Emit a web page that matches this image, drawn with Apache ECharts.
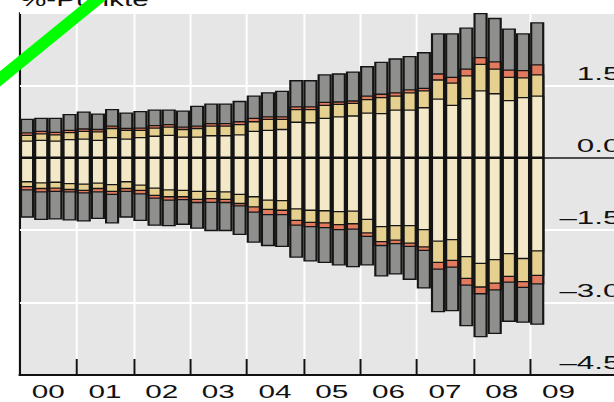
<!DOCTYPE html>
<html>
<head>
<meta charset="utf-8">
<script src="https://cdn.jsdelivr.net/npm/echarts@6/dist/echarts.min.js"></script>
<style>
html,body{margin:0;padding:0;background:#fff;overflow:hidden;width:614px;height:402px;}
#chart{width:390px;height:402px;transform:scaleX(1.65);transform-origin:0 0;}
</style>
</head>
<body>
<div id="chart"></div>
<script>
// Year tick labels (one extra, unlabeled slot to the right)
var years = ['00','01','02','03','04','05','06','07','08','09',''];
var quartersPerYear = ['Q1','Q2','Q3','Q4'];

// Band boundaries (percentage points), one value per quarter 2000Q1..2009Q1
var grayUp = [0.81,0.83,0.83,0.91,0.96,0.92,1.01,0.94,0.97,1.00,1.00,0.98,1.08,1.125,1.125,1.18,1.29,1.36,1.39,1.61,1.61,1.73,1.75,1.79,1.90,1.99,2.06,2.11,2.19,2.58,2.58,2.70,3.00,2.90,2.68,2.58,2.81];
var redUp = [0.53,0.56,0.54,0.58,0.61,0.60,0.67,0.62,0.63,0.68,0.70,0.65,0.67,0.72,0.72,0.76,0.83,0.86,0.86,1.07,1.07,1.16,1.17,1.19,1.29,1.33,1.36,1.42,1.45,1.75,1.68,1.85,2.09,2.00,1.83,1.82,1.94];
var tanUp = [0.48,0.51,0.49,0.535,0.56,0.55,0.62,0.58,0.58,0.63,0.65,0.60,0.62,0.67,0.67,0.70,0.76,0.81,0.81,1.01,1.01,1.10,1.12,1.14,1.22,1.26,1.29,1.36,1.40,1.625,1.56,1.71,1.95,1.85,1.68,1.67,1.73];
var creamUp = [0.36,0.375,0.36,0.39,0.40,0.375,0.43,0.40,0.43,0.46,0.48,0.44,0.44,0.47,0.47,0.49,0.56,0.58,0.60,0.75,0.74,0.83,0.86,0.88,0.94,0.93,1.00,1.00,1.05,1.23,1.10,1.24,1.40,1.34,1.20,1.26,1.29];
var creamDown = [-0.51,-0.535,-0.52,-0.55,-0.56,-0.54,-0.57,-0.51,-0.58,-0.64,-0.68,-0.69,-0.71,-0.71,-0.72,-0.77,-0.82,-0.89,-0.90,-1.07,-1.10,-1.11,-1.13,-1.12,-1.29,-1.44,-1.42,-1.42,-1.50,-1.74,-1.71,-2.06,-2.20,-2.125,-2.00,-2.10,-1.94];
var tanDown = [-0.61,-0.65,-0.64,-0.67,-0.69,-0.65,-0.71,-0.65,-0.69,-0.79,-0.82,-0.82,-0.875,-0.86,-0.875,-0.96,-1.03,-1.08,-1.10,-1.31,-1.35,-1.36,-1.40,-1.38,-1.57,-1.75,-1.72,-1.78,-1.86,-2.18,-2.14,-2.51,-2.69,-2.61,-2.47,-2.58,-2.45];
var redDown = [-0.68,-0.72,-0.71,-0.72,-0.74,-0.72,-0.77,-0.71,-0.76,-0.85,-0.89,-0.88,-0.94,-0.935,-0.94,-1.01,-1.14,-1.19,-1.19,-1.41,-1.44,-1.46,-1.50,-1.49,-1.64,-1.83,-1.79,-1.85,-1.93,-2.32,-2.28,-2.65,-2.83,-2.75,-2.59,-2.70,-2.625];
var grayDown = [-1.24,-1.29,-1.28,-1.30,-1.32,-1.27,-1.36,-1.24,-1.31,-1.41,-1.42,-1.39,-1.47,-1.52,-1.52,-1.60,-1.76,-1.83,-1.85,-2.07,-2.15,-2.18,-2.23,-2.27,-2.23,-2.46,-2.42,-2.53,-2.71,-3.20,-3.18,-3.49,-3.72,-3.65,-3.40,-3.42,-3.46];

var unitText = '%-Punkte';

// quarter categories across all year slots
var quarters = [];
years.forEach(function (y, i) {
  quartersPerYear.forEach(function (q) { quarters.push('20' + (i < 10 ? '0' + i : i) + q); });
});

var colors = { gray: '#8f908e', red: '#e27a5e', tan: '#e5d08f', cream: '#f3e9c8' };
var FONT = 'Liberation Sans, Arial, Helvetica, sans-serif';

function band(name, data, color, extra) {
  var s = {
    name: name, type: 'bar', xAxisIndex: 0, data: data,
    barGap: '-100%', barCategoryGap: '0%',
    itemStyle: { color: color, borderColor: '#151515', borderWidth: 1.3 },
    silent: true, animation: false
  };
  if (extra) for (var k in extra) s[k] = extra[k];
  return s;
}

var chart = echarts.init(document.getElementById('chart'), null, { renderer: 'svg' });
chart.setOption({
  animation: false,
  grid: {
    left: 12.1, top: 13, right: 0, bottom: 27,
    outerBoundsMode: 'none', containLabel: false,
    show: true, backgroundColor: '#e6e6e6', borderColor: '#111', borderWidth: 1.3
  },
  xAxis: [
    { type: 'category', data: quarters, show: false, boundaryGap: true },
    {
      type: 'category', data: years, position: 'bottom', boundaryGap: true,
      axisLine: { show: true, lineStyle: { color: '#111', width: 2 } },
      axisTick: { show: true, inside: true, length: 16, lineStyle: { color: '#111', width: 1.2 },
        interval: function (i) { return i >= 1 && i <= 9; } },
      splitLine: { show: true, lineStyle: { color: '#ffffff', width: 1.2 },
        interval: function (i) { return i >= 1 && i <= 9; } },
      axisLabel: { show: true, fontSize: 18, color: '#111', fontFamily: FONT, margin: 8, interval: 0 }
    }
  ],
  yAxis: {
    type: 'value', min: -4.5, max: 3.0, interval: 1.5, position: 'right',
    axisLine: { show: false }, axisTick: { show: false },
    splitLine: { show: true, lineStyle: { color: '#ffffff', width: 2 } },
    axisLabel: {
      inside: true, margin: 14, fontSize: 19, color: '#111', fontFamily: FONT,
      verticalAlign: 'bottom', padding: [0, 0, 3, 0], showMaxLabel: false,
      formatter: function (v) { return (v < 0 ? '\u2013' : '') + Math.abs(v).toFixed(1); }
    }
  },
  series: [
    band('grayUp', grayUp, colors.gray),
    band('redUp', redUp, colors.red),
    band('tanUp', tanUp, colors.tan),
    band('creamUp', creamUp, colors.cream),
    band('grayDown', grayDown, colors.gray),
    band('redDown', redDown, colors.red),
    band('tanDown', tanDown, colors.tan),
    band('creamDown', creamDown, colors.cream, {
      markLine: {
        silent: true, symbol: 'none', animation: false, z: 10,
        label: { show: false },
        lineStyle: { color: '#111', width: 1.5, type: 'solid' },
        data: [{ yAxis: 0 }]
      }
    })
  ],
  graphic: [
    { type: 'text', z: 100, style: { text: unitText, x: 12.1, y: 9, font: '18px ' + FONT, fill: '#111', verticalAlign: 'bottom' } },
    { type: 'line', z: 110, shape: { x1: -6, y1: 87, x2: 66, y2: -10 }, style: { stroke: '#00ff00', lineWidth: 9 } }
  ]
});
</script>
</body>
</html>
